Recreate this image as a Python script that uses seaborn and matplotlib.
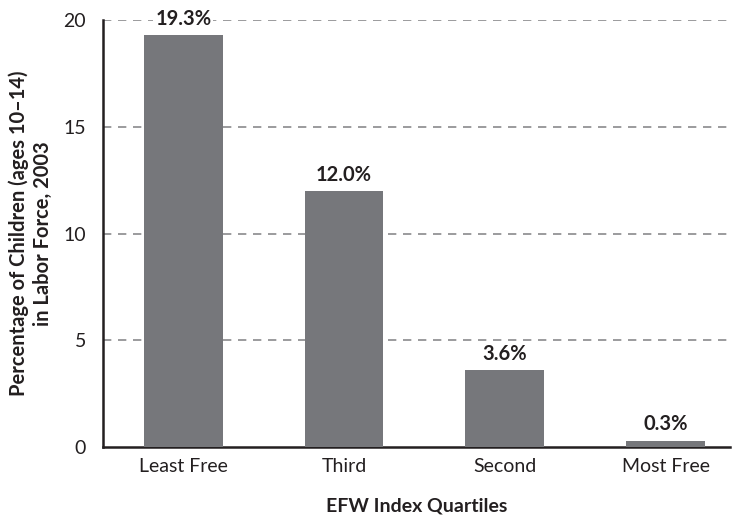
import matplotlib
matplotlib.use("Agg")
import matplotlib.pyplot as plt
import seaborn as sns
import pandas as pd

categories = ["Least Free", "Third", "Second", "Most Free"]
values = [19.3, 12.0, 3.6, 0.3]
yticks = [0, 5, 10, 15, 20]

sns.set_theme(style="white")
plt.rcParams['font.family'] = ['Lato', 'DejaVu Sans']

df = pd.DataFrame({"q": categories, "v": values})
fig = plt.figure(figsize=(7.35, 5.18), dpi=100)
ax = fig.add_axes([0.140, 0.137, 0.853, 0.824])

sns.barplot(data=df, x="q", y="v", color="#76777b", saturation=1, width=0.49, ax=ax,
            zorder=3, linewidth=0)

for i, v in enumerate(values):
    ax.text(i, v + 0.3, f"{v:.1f}%", ha="center", va="bottom", fontsize=14.5,
            fontweight="bold", color="#231f20", zorder=4,
            bbox=dict(facecolor="white", edgecolor="none", pad=1.5))

ax.set_xlim(-0.5, 3.4)
ax.set_ylim(0, 20)
ax.set_yticks(yticks)
ax.set_yticklabels([str(t) for t in yticks], fontsize=14, color="#231f20")
ax.tick_params(axis="x", labelsize=14, colors="#231f20", pad=8, length=0)
ax.tick_params(axis="y", length=0, pad=12)
for t in yticks[1:]:
    ax.axhline(t, color="#8a8a8c", linestyle=(0, (5, 4)), linewidth=1.2, zorder=1)

for s in ["top", "right"]:
    ax.spines[s].set_visible(False)
for s in ["left", "bottom"]:
    ax.spines[s].set_color("#231f20")
    ax.spines[s].set_linewidth(1.8)

ax.set_xlabel("EFW Index Quartiles", fontsize=14, fontweight="bold", color="#231f20", labelpad=16)
ax.set_ylabel("Percentage of Children (ages 10–14)\nin Labor Force, 2003", fontsize=14.5,
              fontweight="bold", color="#231f20", labelpad=8)

fig.savefig("out.png", dpi=100)
